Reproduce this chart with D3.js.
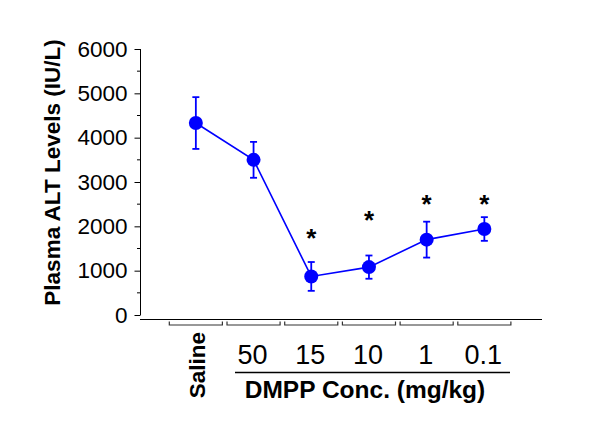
<!DOCTYPE html>
<html>
<head>
<meta charset="utf-8">
<script src="https://cdn.jsdelivr.net/npm/d3@7"></script>
<style>
  body { margin: 0; background: #fff; }
  text { font-family: "Liberation Sans", Arial, Helvetica, sans-serif; }
</style>
</head>
<body>
<script>
// data
var doses = ["Saline", "50", "15", "10", "1", "0.1"];
var altMean = [4330, 3500, 870, 1080, 1700, 1940];
var altErr = [584, 405, 325, 262, 405, 267];
var starAt = [null, null, 1760, 2170, 2530, 2530];   // asterisk centre, IU/L
var yTicks = [0, 1000, 2000, 3000, 4000, 5000, 6000];
var yMinor = [500, 1500, 2500, 3500, 4500, 5500];

var width = 600,
    height = 437;

var svg = d3.select("body").append("svg")
    .attr("width", width)
    .attr("height", height);

var y = d3.scaleLinear()
    .domain([0, 6000])
    .range([315, 49]);

var x = d3.scaleBand()
    .domain(doses)
    .range([167, 513.2])
    .paddingInner(0.08)
    .paddingOuter(0.04);

function cx(d) { return x(d) + x.bandwidth() / 2; }

var pts = doses.map(function(d, i) {
    return { dose: d, m: altMean[i], e: altErr[i], s: starAt[i] };
});

// y axis
var yAxis = d3.axisLeft(y)
    .tickValues(yTicks)
    .tickSize(6)
    .tickPadding(7)
    .tickFormat(d3.format("d"));

var gy = svg.append("g")
    .attr("transform", "translate(140.5,0)")
    .call(yAxis);
gy.select(".domain").attr("d", "M0," + y(6000) + "V" + y(0));
gy.selectAll("line").attr("stroke", "#000");
gy.selectAll("text")
    .style("font-size", "22.5px")
    .attr("fill", "#000");

gy.selectAll(".minor")
    .data(yMinor)
    .enter().append("line")
    .attr("x1", -3.5).attr("x2", 0)
    .attr("y1", function(d) { return y(d); })
    .attr("y2", function(d) { return y(d); })
    .attr("stroke", "#000");

// x baseline
svg.append("line")
    .attr("x1", 140).attr("x2", 542)
    .attr("y1", 319.5).attr("y2", 319.5)
    .attr("stroke", "#000")
    .attr("stroke-width", 1.2);

// group brackets
svg.selectAll(".bracket")
    .data(doses)
    .enter().append("path")
    .attr("class", "bracket")
    .attr("fill", "none")
    .attr("stroke", "#333")
    .attr("stroke-width", 1.2)
    .attr("d", function(d) {
        var x0 = x(d), x1 = x(d) + x.bandwidth();
        return "M" + x0 + ",321.5V325H" + x1 + "V321.5";
    });

// category labels
svg.append("text")
    .attr("transform", "translate(" + (cx("Saline") + 9.5) + ",332) rotate(-90)")
    .attr("text-anchor", "end")
    .style("font-size", "22.5px")
    .style("font-weight", "bold")
    .text("Saline");

svg.selectAll(".xlab")
    .data(doses.slice(1))
    .enter().append("text")
    .attr("class", "xlab")
    .attr("x", function(d) { return cx(d) - 1; })
    .attr("y", 364)
    .attr("text-anchor", "middle")
    .style("font-size", "27px")
    .text(function(d) { return d; });

svg.append("line")
    .attr("x1", 235).attr("x2", 510)
    .attr("y1", 372.5).attr("y2", 372.5)
    .attr("stroke", "#000")
    .attr("stroke-width", 1.3);

svg.append("text")
    .attr("x", 365)
    .attr("y", 398)
    .attr("text-anchor", "middle")
    .style("font-size", "24.5px")
    .style("font-weight", "bold")
    .text("DMPP Conc. (mg/kg)");

svg.append("text")
    .attr("transform", "translate(59.5,172.5) rotate(-90)")
    .attr("text-anchor", "middle")
    .style("font-size", "22.5px")
    .style("font-weight", "bold")
    .text("Plasma ALT Levels (IU/L)");

// series
var blue = "#0000ff";

svg.append("path")
    .datum(pts)
    .attr("fill", "none")
    .attr("stroke", blue)
    .attr("stroke-width", 1.6)
    .attr("d", d3.line()
        .x(function(d) { return cx(d.dose); })
        .y(function(d) { return y(d.m); }));

var eb = svg.selectAll(".err")
    .data(pts)
    .enter().append("g")
    .attr("class", "err")
    .attr("stroke", blue)
    .attr("stroke-width", 1.8);

eb.append("line")
    .attr("x1", function(d) { return cx(d.dose); })
    .attr("x2", function(d) { return cx(d.dose); })
    .attr("y1", function(d) { return y(d.m + d.e); })
    .attr("y2", function(d) { return y(d.m - d.e); });

[1, -1].forEach(function(sgn) {
    eb.append("line")
        .attr("x1", function(d) { return cx(d.dose) - 3.5; })
        .attr("x2", function(d) { return cx(d.dose) + 3.5; })
        .attr("y1", function(d) { return y(d.m + sgn * d.e); })
        .attr("y2", function(d) { return y(d.m + sgn * d.e); });
});

svg.selectAll(".pt")
    .data(pts)
    .enter().append("circle")
    .attr("class", "pt")
    .attr("cx", function(d) { return cx(d.dose); })
    .attr("cy", function(d) { return y(d.m); })
    .attr("r", 7)
    .attr("fill", blue);

svg.selectAll(".star")
    .data(pts.filter(function(d) { return d.s !== null; }))
    .enter().append("text")
    .attr("class", "star")
    .attr("x", function(d) { return cx(d.dose); })
    .attr("y", function(d) { return y(d.s) + 10; })
    .attr("text-anchor", "middle")
    .style("font-size", "26px")
    .style("font-weight", "bold")
    .text("*");
</script>
</body>
</html>
